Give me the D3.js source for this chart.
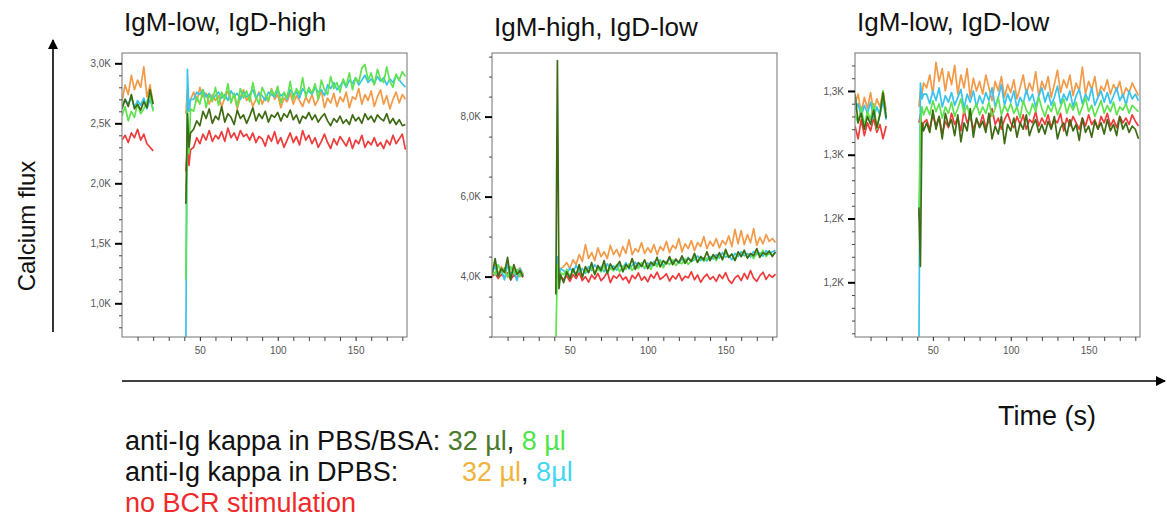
<!DOCTYPE html>
<html>
<head>
<meta charset="utf-8">
<script src="https://cdn.jsdelivr.net/npm/d3@7"></script>
<style>
  body { margin: 0; background: #fff; }
  svg { display: block; font-family: Arial, "Liberation Sans", sans-serif; }
</style>
</head>
<body>
<svg id="chart" width="1167" height="529"></svg>
<script>
// ---- data (values in K) ----
const titles = ['IgM-low, IgD-high', 'IgM-high, IgD-low', 'IgM-low, IgD-low'];
const xMajorTicks = [50, 100, 150];
const p1YTicks = [1.0, 1.5, 2.0, 2.5, 3.0];
const p2YTicks = [4, 6, 8];
const p3YTicks = [1.20, 1.24, 1.28, 1.32];

const preTimes = [0, 2, 4, 6, 8, 10, 12, 14, 16, 18, 20];
const postTimes = [41, 42, 43, 44, 46, 48, 50, 52, 54, 56, 58, 60, 62, 64, 66, 68, 70, 72, 74, 76, 78, 80,
  82, 84, 86, 88, 90, 92, 94, 96, 98, 100, 102, 104, 106, 108, 110, 112, 114, 116, 118, 120,
  122, 124, 126, 128, 130, 132, 134, 136, 138, 140, 142, 144, 146, 148, 150, 152, 154, 156, 158, 160,
  162, 164, 166, 168, 170, 172, 174, 176, 178, 180, 182];

// panel 1: IgM-low, IgD-high
const p1RedPre = [2.36, 2.40, 2.34, 2.42, 2.38, 2.45, 2.36, 2.41, 2.33, 2.30, 2.27];
const p1RedPost = [2.10, 2.30, 2.15, 2.28,
  2.30, 2.38, 2.33, 2.41, 2.36, 2.44, 2.35, 2.40,
  2.37, 2.43, 2.35, 2.46, 2.38, 2.42, 2.36, 2.44, 2.39, 2.41,
  2.36, 2.42, 2.34, 2.39, 2.37, 2.31, 2.40, 2.35, 2.43, 2.33,
  2.38, 2.30, 2.36, 2.42, 2.34, 2.39, 2.32, 2.44, 2.36, 2.40,
  2.33, 2.38, 2.30, 2.35, 2.41, 2.34, 2.29, 2.37, 2.32, 2.39,
  2.35, 2.31, 2.38, 2.29, 2.36, 2.33, 2.40, 2.30, 2.35, 2.32,
  2.38, 2.31, 2.34, 2.29, 2.36, 2.32, 2.40, 2.33, 2.37, 2.41, 2.28];
const p1OrangePre = [2.68, 2.82, 2.74, 2.90, 2.78, 2.86, 2.80, 2.97, 2.72, 2.82, 2.66];
const p1OrangePost = [2.58, 2.78, 2.60, 2.70,
  2.76, 2.68, 2.80, 2.72, 2.75, 2.66, 2.74, 2.69,
  2.73, 2.64, 2.71, 2.77, 2.68, 2.74, 2.62, 2.72, 2.78, 2.69,
  2.73, 2.64, 2.70, 2.76, 2.66, 2.72, 2.68, 2.79, 2.70, 2.74,
  2.63, 2.71, 2.68, 2.75, 2.66, 2.73, 2.69, 2.64, 2.72, 2.67,
  2.74, 2.65, 2.70, 2.77, 2.63, 2.71, 2.67, 2.75, 2.64, 2.72,
  2.68, 2.76, 2.63, 2.72, 2.70, 2.79, 2.66, 2.74, 2.69, 2.77,
  2.64, 2.72, 2.78, 2.66, 2.73, 2.62, 2.70, 2.76, 2.67, 2.74, 2.70];
const p1CyanPre = [2.64, 2.70, 2.66, 2.72, 2.63, 2.69, 2.65, 2.71, 2.62, 2.70, 2.62];
const p1CyanPost = [0.60, 2.95, 2.60, 2.70,
  2.70, 2.76, 2.74, 2.78, 2.72, 2.75, 2.70, 2.73,
  2.76, 2.71, 2.74, 2.69, 2.77, 2.73, 2.75, 2.70, 2.76, 2.72,
  2.74, 2.78, 2.71, 2.75, 2.73, 2.69, 2.76, 2.74, 2.72, 2.77,
  2.73, 2.75, 2.70, 2.78, 2.74, 2.76, 2.71, 2.79, 2.75, 2.77,
  2.74, 2.80, 2.76, 2.78, 2.73, 2.82, 2.79, 2.84, 2.78, 2.81,
  2.85, 2.80, 2.86, 2.83, 2.88, 2.82, 2.86, 2.90, 2.84, 2.87,
  2.83, 2.89, 2.85, 2.88, 2.82, 2.87, 2.84, 2.90, 2.86, 2.83, 2.80];
const p1LightPre = [2.56, 2.64, 2.52, 2.60, 2.55, 2.66, 2.58, 2.62, 2.68, 2.74, 2.60];
const p1LightPost = [1.20, 2.60, 2.25, 2.62,
  2.60, 2.72, 2.66, 2.78, 2.63, 2.74, 2.68, 2.80,
  2.65, 2.76, 2.70, 2.83, 2.67, 2.75, 2.64, 2.79, 2.71, 2.77,
  2.68, 2.84, 2.72, 2.66, 2.80, 2.74, 2.69, 2.78, 2.73, 2.81,
  2.67, 2.76, 2.71, 2.85, 2.70, 2.79, 2.74, 2.88, 2.72, 2.80,
  2.75, 2.83, 2.70, 2.86, 2.78, 2.74, 2.89, 2.79, 2.84, 2.76,
  2.87, 2.81, 2.92, 2.78, 2.88, 2.84, 2.96, 2.99, 2.86, 2.92,
  2.82, 2.95, 2.87, 2.84, 2.97, 2.85, 2.80, 2.91, 2.86, 2.93, 2.89];
const p1DarkPre = [2.62, 2.70, 2.64, 2.74, 2.62, 2.66, 2.61, 2.68, 2.63, 2.78, 2.66];
const p1DarkPost = [1.83, 2.58, 2.30, 2.42,
  2.45, 2.52, 2.48, 2.60, 2.54, 2.62, 2.50, 2.56,
  2.53, 2.64, 2.51, 2.58, 2.55, 2.49, 2.61, 2.54, 2.57, 2.50,
  2.56, 2.63, 2.52, 2.58, 2.54, 2.60, 2.51, 2.57, 2.55, 2.59,
  2.52, 2.58, 2.55, 2.61, 2.53, 2.57, 2.50, 2.56, 2.54, 2.59,
  2.53, 2.57, 2.51, 2.55, 2.58, 2.52, 2.48, 2.54, 2.51, 2.56,
  2.50, 2.53, 2.49, 2.57, 2.52, 2.55, 2.50, 2.58, 2.53, 2.56,
  2.51, 2.57, 2.54, 2.52, 2.58, 2.50, 2.54, 2.49, 2.53, 2.48, 2.49];

// panel 2: IgM-high, IgD-low
const p2RedPre = [4.00, 4.08, 3.95, 4.05, 3.98, 4.10, 3.92, 4.04, 3.97, 4.06, 3.98];
const p2RedPost = [3.95, 4.05, 3.90, 4.00,
  3.92, 4.02, 3.88, 4.05, 3.95, 4.10, 3.90, 4.00,
  3.86, 4.04, 3.94, 4.08, 3.90, 3.98, 4.12, 3.85, 4.02, 3.96,
  4.06, 3.92, 3.99, 3.84, 4.03, 3.95, 4.09, 3.91, 4.00, 3.87,
  4.05, 3.96, 4.11, 3.93, 3.99, 4.07, 3.89, 4.02, 3.94, 4.08,
  3.90, 4.01, 3.97, 4.12, 3.92, 4.04, 3.86, 3.98, 4.06, 3.93,
  4.00, 3.88, 4.05, 3.95, 4.10, 3.91, 3.83, 3.97, 4.03, 3.90,
  4.08, 3.94, 4.15, 3.96, 3.88, 4.02, 4.11, 3.93, 4.05, 3.98, 4.06];
const p2OrangePre = [4.15, 4.30, 4.05, 4.25, 4.10, 4.35, 4.00, 4.20, 4.12, 4.22, 4.05];
const p2OrangePost = [4.00, 4.40, 4.10, 4.20,
  4.25, 4.35, 4.20, 4.42, 4.30, 4.55, 4.38, 4.80,
  4.45, 4.60, 4.40, 4.72, 4.50, 4.62, 4.45, 4.78, 4.55, 4.68,
  4.50, 4.75, 4.58, 4.92, 4.55, 4.70, 4.62, 4.85, 4.58, 4.72,
  4.60, 4.80, 4.55, 4.75, 4.65, 4.88, 4.60, 4.78, 4.70, 4.95,
  4.62, 4.82, 4.70, 4.90, 4.65, 4.85, 4.75, 5.00, 4.70, 4.88,
  4.76, 4.95, 4.72, 4.90, 4.80, 5.02, 4.75, 5.18, 4.82, 5.15,
  4.80, 5.05, 4.85, 5.20, 4.78, 4.98, 4.82, 5.05, 4.88, 4.95, 4.85];
const p2CyanPre = [4.10, 4.25, 4.00, 4.18, 3.92, 4.30, 4.05, 4.15, 3.90, 4.20, 4.02];
const p2CyanPost = [4.10, 4.50, 4.00, 4.20,
  4.15, 4.05, 4.22, 4.10, 4.28, 4.12, 4.20, 4.08,
  4.25, 4.15, 4.30, 4.18, 4.24, 4.12, 4.32, 4.20, 4.27, 4.16,
  4.30, 4.22, 4.35, 4.19, 4.28, 4.36, 4.24, 4.31, 4.20, 4.34,
  4.26, 4.38, 4.30, 4.42, 4.28, 4.36, 4.45, 4.32, 4.40, 4.34,
  4.44, 4.36, 4.48, 4.38, 4.42, 4.52, 4.40, 4.47, 4.39, 4.50,
  4.44, 4.55, 4.46, 4.60, 4.48, 4.53, 4.42, 4.58, 4.50, 4.62,
  4.52, 4.58, 4.49, 4.63, 4.55, 4.60, 4.51, 4.65, 4.57, 4.62, 4.66];
const p2LightPre = [4.20, 4.05, 4.30, 4.10, 4.22, 3.98, 4.25, 4.08, 4.18, 4.00, 4.10];
const p2LightPost = [2.30, 4.30, 3.90, 4.10,
  4.05, 4.18, 4.00, 4.15, 4.08, 4.22, 4.02, 4.16,
  4.10, 4.25, 4.06, 4.20, 4.12, 4.28, 4.08, 4.22, 4.14, 4.30,
  4.12, 4.26, 4.18, 4.32, 4.15, 4.28, 4.20, 4.35, 4.22, 4.30,
  4.18, 4.34, 4.25, 4.40, 4.22, 4.38, 4.30, 4.42, 4.28, 4.36,
  4.32, 4.45, 4.30, 4.40, 4.48, 4.35, 4.50, 4.38, 4.46, 4.42,
  4.52, 4.40, 4.55, 4.45, 4.60, 4.48, 4.56, 4.42, 4.58, 4.50,
  4.62, 4.48, 4.57, 4.45, 4.60, 4.52, 4.66, 4.50, 4.58, 4.54, 4.60];
const p2DarkPre = [4.05, 4.45, 4.00, 4.20, 4.10, 4.48, 3.92, 4.30, 4.05, 4.15, 4.00];
const p2DarkPost = [3.55, 9.40, 3.70, 4.05,
  3.85, 4.12, 3.95, 4.20, 4.02, 4.30, 3.98, 4.25,
  4.10, 4.35, 4.05, 4.28, 4.15, 4.40, 4.08, 4.32, 4.18, 4.26,
  4.38, 4.12, 4.30, 4.22, 4.45, 4.18, 4.35, 4.25, 4.42, 4.20,
  4.36, 4.28, 4.48, 4.24, 4.40, 4.32, 4.50, 4.30, 4.44, 4.35,
  4.52, 4.33, 4.46, 4.38, 4.58, 4.36, 4.50, 4.42, 4.62, 4.40,
  4.55, 4.45, 4.60, 4.42, 4.68, 4.48, 4.56, 4.40, 4.62, 4.50,
  4.66, 4.46, 4.58, 4.52, 4.70, 4.48, 4.60, 4.55, 4.64, 4.50, 4.62];

// panel 3: IgM-low, IgD-low
const p3RedPre = [1.298, 1.290, 1.302, 1.292, 1.300, 1.295, 1.303, 1.294, 1.299, 1.290, 1.298];
const p3RedPost = [1.300, 1.305, 1.295, 1.300,
  1.302, 1.296, 1.305, 1.298, 1.304, 1.293, 1.301, 1.297,
  1.306, 1.299, 1.303, 1.295, 1.308, 1.300, 1.304, 1.296, 1.302, 1.298,
  1.305, 1.297, 1.301, 1.309, 1.299, 1.303, 1.296, 1.302, 1.306, 1.300,
  1.297, 1.304, 1.299, 1.305, 1.296, 1.302, 1.300, 1.307, 1.298, 1.303,
  1.299, 1.305, 1.297, 1.302, 1.300, 1.306, 1.295, 1.303, 1.298, 1.304,
  1.300, 1.296, 1.303, 1.298, 1.305, 1.299, 1.302, 1.296, 1.304, 1.300,
  1.306, 1.298, 1.302, 1.297, 1.304, 1.300, 1.303, 1.299, 1.305, 1.301, 1.298];
const p3OrangePre = [1.312, 1.318, 1.306, 1.316, 1.309, 1.319, 1.307, 1.315, 1.310, 1.320, 1.308];
const p3OrangePost = [1.310, 1.320, 1.318, 1.325,
  1.322, 1.330, 1.318, 1.338, 1.326, 1.334, 1.320, 1.332,
  1.324, 1.336, 1.318, 1.330, 1.322, 1.334, 1.316, 1.328, 1.320, 1.326,
  1.318, 1.330, 1.322, 1.314, 1.326, 1.320, 1.329, 1.316, 1.324, 1.319,
  1.327, 1.315, 1.322, 1.330, 1.318, 1.325, 1.320, 1.332, 1.317, 1.326,
  1.321, 1.329, 1.316, 1.324, 1.333, 1.319, 1.327, 1.322, 1.330, 1.317,
  1.325, 1.320, 1.335, 1.318, 1.326, 1.321, 1.329, 1.316, 1.323, 1.320,
  1.327, 1.318, 1.324, 1.320, 1.326, 1.316, 1.322, 1.319, 1.325, 1.321, 1.317];
const p3CyanPre = [1.308, 1.312, 1.304, 1.311, 1.306, 1.313, 1.303, 1.310, 1.305, 1.314, 1.302];
const p3CyanPost = [1.150, 1.325, 1.315, 1.318,
  1.318, 1.312, 1.320, 1.314, 1.322, 1.310, 1.317, 1.313,
  1.319, 1.311, 1.316, 1.321, 1.309, 1.318, 1.313, 1.320, 1.310, 1.317,
  1.312, 1.319, 1.314, 1.322, 1.310, 1.316, 1.324, 1.311, 1.318, 1.313,
  1.320, 1.309, 1.316, 1.312, 1.321, 1.314, 1.318, 1.310, 1.317, 1.322,
  1.313, 1.319, 1.311, 1.316, 1.323, 1.312, 1.318, 1.314, 1.320, 1.310,
  1.317, 1.321, 1.312, 1.318, 1.314, 1.322, 1.311, 1.316, 1.320, 1.313,
  1.319, 1.312, 1.317, 1.322, 1.314, 1.318, 1.311, 1.320, 1.315, 1.318, 1.314];
const p3LightPre = [1.305, 1.300, 1.310, 1.298, 1.307, 1.302, 1.312, 1.296, 1.306, 1.320, 1.304];
const p3LightPost = [1.240, 1.300, 1.310, 1.305,
  1.310, 1.305, 1.314, 1.307, 1.312, 1.303, 1.310, 1.306,
  1.313, 1.304, 1.309, 1.315, 1.306, 1.311, 1.303, 1.308, 1.312, 1.305,
  1.310, 1.306, 1.313, 1.304, 1.309, 1.316, 1.305, 1.311, 1.307, 1.312,
  1.306, 1.310, 1.303, 1.314, 1.308, 1.305, 1.312, 1.307, 1.316, 1.309,
  1.304, 1.311, 1.307, 1.313, 1.305, 1.310, 1.315, 1.306, 1.312, 1.308,
  1.313, 1.305, 1.310, 1.316, 1.307, 1.311, 1.304, 1.309, 1.314, 1.306,
  1.311, 1.307, 1.313, 1.305, 1.310, 1.308, 1.312, 1.306, 1.311, 1.309, 1.307];
const p3DarkPre = [1.318, 1.300, 1.306, 1.296, 1.304, 1.299, 1.308, 1.297, 1.305, 1.319, 1.303];
const p3DarkPost = [1.247, 1.210, 1.300, 1.295,
  1.300, 1.294, 1.308, 1.296, 1.304, 1.290, 1.306, 1.298,
  1.302, 1.292, 1.305, 1.288, 1.300, 1.295, 1.309, 1.291, 1.303, 1.297,
  1.301, 1.294, 1.306, 1.290, 1.298, 1.293, 1.304, 1.287, 1.299, 1.295,
  1.303, 1.291, 1.300, 1.296, 1.305, 1.292, 1.298, 1.302, 1.294, 1.299,
  1.293, 1.301, 1.296, 1.304, 1.290, 1.297, 1.300, 1.292, 1.302, 1.295,
  1.299, 1.289, 1.303, 1.294, 1.298, 1.291, 1.301, 1.296, 1.300, 1.293,
  1.302, 1.295, 1.299, 1.292, 1.304, 1.296, 1.300, 1.294, 1.298, 1.296, 1.290];

const colors = { red: '#ef3b3b', orange: '#f29a48', cyan: '#38c2ec', light: '#5fe24f', dark: '#3d6b14' };

const panels = [
  { title: titles[0], left: 122, titleY: 31, domain: [0.719, 3.086], ticks: p1YTicks, minor: 0.1,
    series: [['red', p1RedPre, p1RedPost], ['orange', p1OrangePre, p1OrangePost], ['cyan', p1CyanPre, p1CyanPost],
             ['light', p1LightPre, p1LightPost], ['dark', p1DarkPre, p1DarkPost]] },
  { title: titles[1], left: 492, titleY: 36, domain: [2.49, 9.59], ticks: p2YTicks, minor: 0.5,
    series: [['red', p2RedPre, p2RedPost], ['orange', p2OrangePre, p2OrangePost], ['cyan', p2CyanPre, p2CyanPost],
             ['light', p2LightPre, p2LightPost], ['dark', p2DarkPre, p2DarkPost]] },
  { title: titles[2], left: 855, titleY: 31, domain: [1.1657, 1.3438], ticks: p3YTicks, minor: 0.008,
    series: [['red', p3RedPre, p3RedPost], ['orange', p3OrangePre, p3OrangePost], ['cyan', p3CyanPre, p3CyanPost],
             ['light', p3LightPre, p3LightPost], ['dark', p3DarkPre, p3DarkPost]] }
];

// ---- drawing ----
const svg = d3.select('#chart');
const plotTop = 53, width = 285, height = 284;
const kFormat = v => d3.format('.1f')(v).replace('.', ',') + 'K';

const defs = svg.append('defs');
defs.append('marker')
  .attr('id', 'arrow')
  .attr('viewBox', '0 0 10 10')
  .attr('refX', 9).attr('refY', 5)
  .attr('markerWidth', 10).attr('markerHeight', 10)
  .attr('markerUnits', 'userSpaceOnUse')
  .attr('orient', 'auto')
  .append('path')
  .attr('d', 'M0,0 L10,5 L0,10 Z')
  .attr('fill', '#000');

panels.forEach((p, i) => {
  const g = svg.append('g').attr('transform', `translate(${p.left},${plotTop})`);
  const x = d3.scaleLinear().domain([0, 183]).range([0, width]);
  const y = d3.scaleLinear().domain(p.domain).range([height, 0]);

  defs.append('clipPath').attr('id', `clip${i}`)
    .append('rect').attr('width', width).attr('height', height);

  // title
  svg.append('text')
    .attr('x', p.left + 2)
    .attr('y', p.titleY)
    .attr('font-size', 26)
    .attr('fill', '#111')
    .text(p.title);

  // lines
  const line = d3.line().x(d => x(d[0])).y(d => y(d[1]));
  const plot = g.append('g').attr('clip-path', `url(#clip${i})`);
  p.series.forEach(([key, pre, post]) => {
    [[preTimes, pre], [postTimes, post]].forEach(([ts, vs]) => {
      plot.append('path')
        .datum(ts.map((t, j) => [t, vs[j]]).filter(d => d[1] != null))
        .attr('fill', 'none')
        .attr('stroke', colors[key])
        .attr('stroke-width', 1.7)
        .attr('stroke-linejoin', 'round')
        .attr('d', line);
    });
  });

  // frame
  g.append('rect')
    .attr('width', width).attr('height', height)
    .attr('fill', 'none').attr('stroke', '#8a8a8a').attr('stroke-width', 1.2);

  // y axis: minor + major
  const [lo, hi] = p.domain;
  const minorY = d3.range(Math.ceil(lo / p.minor) * p.minor, hi, p.minor)
    .filter(v => !p.ticks.some(t => Math.abs(t - v) < p.minor / 10));
  const yMinor = g.append('g').call(d3.axisLeft(y).tickValues(minorY).tickSize(3).tickFormat(''));
  yMinor.select('.domain').remove();
  yMinor.selectAll('line').attr('stroke', '#444');

  const yMajor = g.append('g').call(d3.axisLeft(y).tickValues(p.ticks).tickSize(7).tickPadding(4).tickFormat(kFormat));
  yMajor.select('.domain').remove();
  yMajor.selectAll('line').attr('stroke', '#000').attr('stroke-width', 2);
  yMajor.selectAll('text').attr('font-size', 10).attr('fill', '#555').attr('font-family', 'Arial, sans-serif');

  // x axis: minor + major
  const minorX = d3.range(10, 183, 10).filter(v => !xMajorTicks.includes(v));
  const xMinor = g.append('g').attr('transform', `translate(0,${height})`)
    .call(d3.axisBottom(x).tickValues(minorX).tickSize(4).tickFormat(''));
  xMinor.select('.domain').remove();
  xMinor.selectAll('line').attr('stroke', '#444');

  const xMajor = g.append('g').attr('transform', `translate(0,${height})`)
    .call(d3.axisBottom(x).tickValues(xMajorTicks).tickSize(4).tickPadding(6));
  xMajor.select('.domain').remove();
  xMajor.selectAll('line').attr('stroke', '#222');
  xMajor.selectAll('text').attr('font-size', 10).attr('fill', '#555').attr('font-family', 'Arial, sans-serif');
});

// y arrow + label
svg.append('line')
  .attr('x1', 53).attr('y1', 332).attr('x2', 53).attr('y2', 40)
  .attr('stroke', '#000').attr('stroke-width', 1.6)
  .attr('marker-end', 'url(#arrow)');
svg.append('text')
  .attr('transform', 'translate(35,226) rotate(-90)')
  .attr('text-anchor', 'middle')
  .attr('font-size', 24)
  .attr('fill', '#111')
  .text('Calcium flux');

// x arrow + label
svg.append('line')
  .attr('x1', 122).attr('y1', 381).attr('x2', 1165).attr('y2', 381)
  .attr('stroke', '#000').attr('stroke-width', 1.6)
  .attr('marker-end', 'url(#arrow)');
svg.append('text')
  .attr('x', 998).attr('y', 425)
  .attr('font-size', 27)
  .attr('fill', '#111')
  .text('Time (s)');

// legend
const legend = svg.append('g').attr('font-size', 27);
const l1 = legend.append('text').attr('x', 125).attr('y', 450).attr('fill', '#111');
l1.append('tspan').text('anti-Ig kappa in PBS/BSA: ');
l1.append('tspan').attr('fill', '#4a7a2c').text('32 µl');
l1.append('tspan').text(', ');
l1.append('tspan').attr('fill', '#4ee44a').text('8 µl');

const l2 = legend.append('text').attr('x', 125).attr('y', 481).attr('fill', '#111');
l2.append('tspan').text('anti-Ig kappa in DPBS:');
l2.append('tspan').attr('x', 462).attr('fill', '#f0b43c').text('32 µl');
l2.append('tspan').text(', ');
l2.append('tspan').attr('fill', '#44d6f2').text('8µl');

legend.append('text').attr('x', 125).attr('y', 512).attr('fill', '#f02a2a').text('no BCR stimulation');
</script>
</body>
</html>
